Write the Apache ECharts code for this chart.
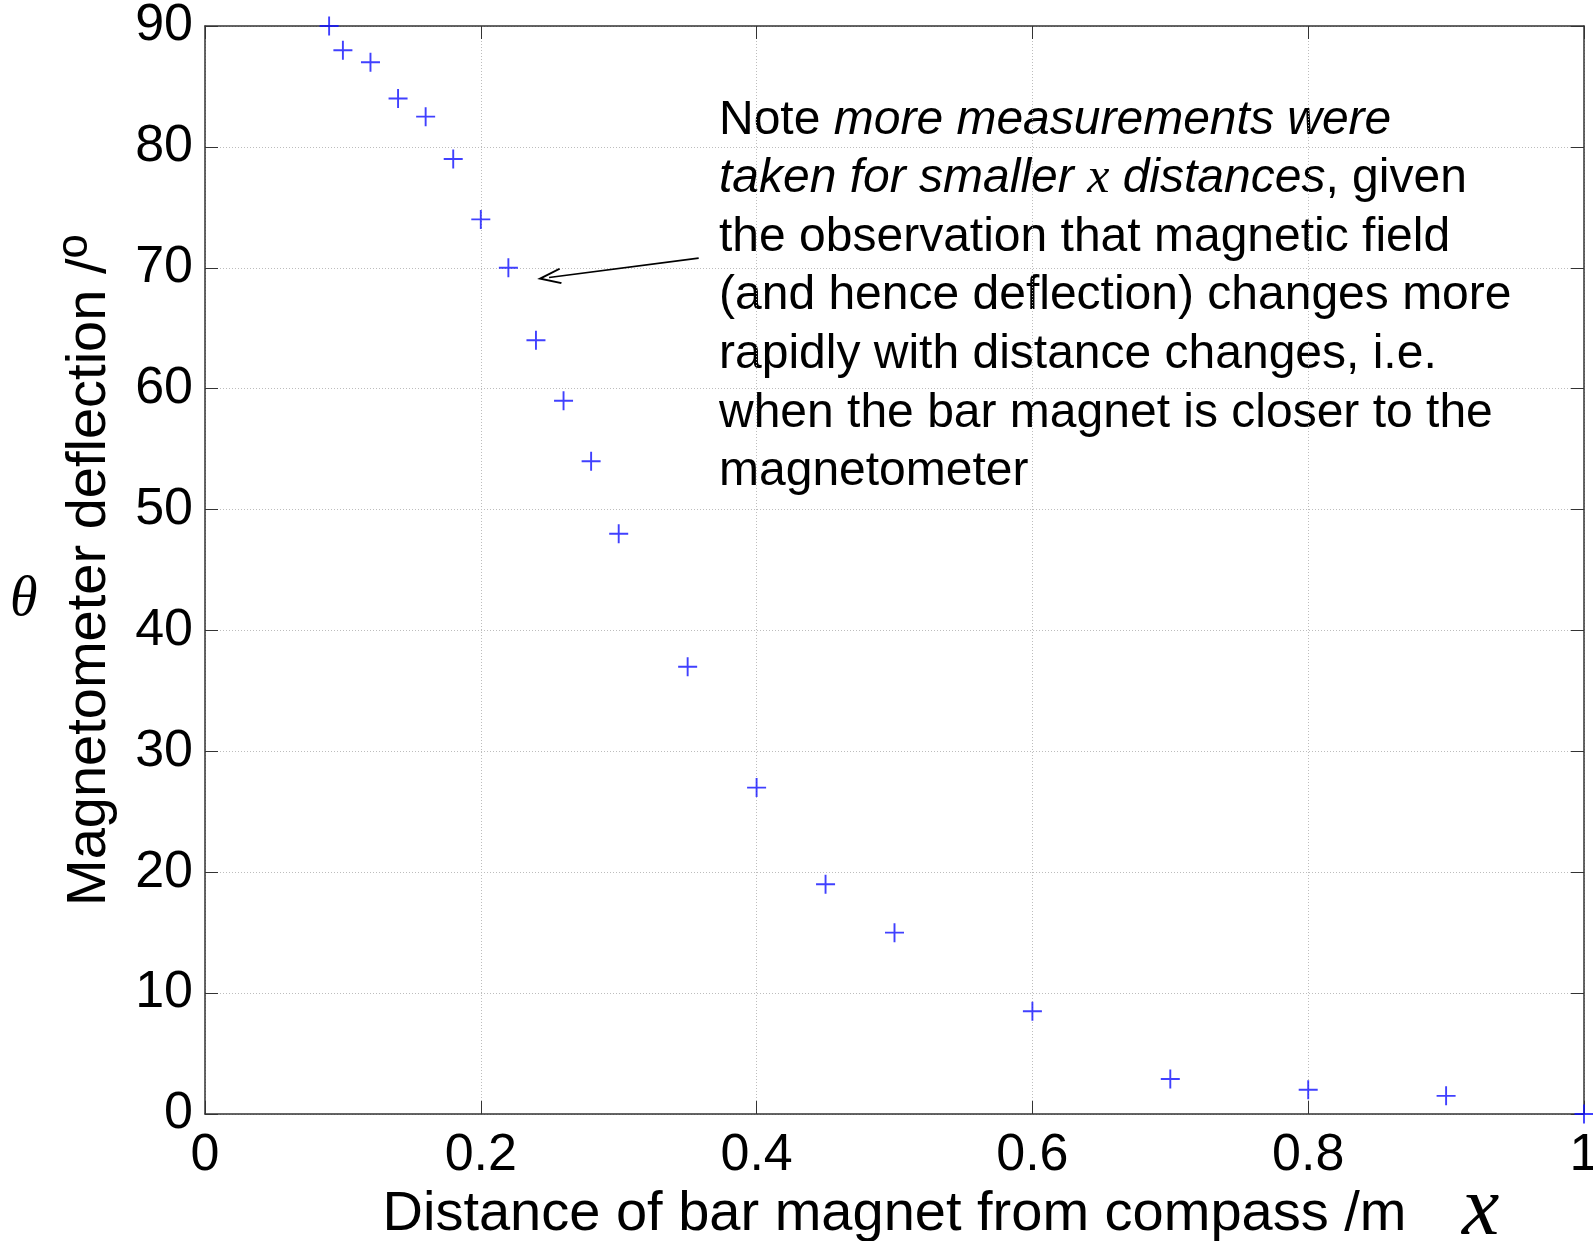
<!DOCTYPE html>
<html>
<head>
<meta charset="utf-8">
<script src="https://cdn.jsdelivr.net/npm/echarts@6/dist/echarts.min.js"></script>
<style>
  html, body { margin: 0; padding: 0; background: #fff; }
  #chart { width: 1593px; height: 1241px; }
</style>
</head>
<body>
<div id="chart"></div>
<script>
// measured distance x (m) and deflection theta (degrees)
const distance = [0.09, 0.1, 0.12, 0.14, 0.16, 0.18, 0.2, 0.22, 0.24, 0.26, 0.28, 0.3, 0.35, 0.4, 0.45, 0.5, 0.6, 0.7, 0.8, 0.9, 1.0]
const deflection = [90, 88, 87, 84, 82.5, 79, 74, 70, 64, 59, 54, 48, 37, 27, 19, 15, 8.5, 2.9, 2, 1.5, 0]

// annotation arrow, in data coordinates
const arrowFrom = [0.358, 70.8]
const arrowTo = [0.2495, 69.2]

const noteLines = [
  'Note {i|more measurements were}',
  '{i|taken for smaller }{m|x}{i| distances}, given',
  'the observation that magnetic field',
  '(and hence deflection) changes more',
  'rapidly with distance changes, i.e.',
  'when the bar magnet is closer to the',
  'magnetometer'
]

const sans = 'Liberation Sans, Arial, sans-serif'
const serif = 'Liberation Serif, Times New Roman, serif'
const axisColor = '#333'
const plus = 'path://M-1,-10h2v9h9v2h-9v9h-2v-9h-9v-2h9z'
const openArrow = 'path://M0,0L7,18L5.6,18.7L0,4.6L-5.6,18.7L-7,18Z'

const chart = echarts.init(document.getElementById('chart'))

const tick = { show: true, inside: true, length: 13, lineStyle: { color: axisColor, width: 1 } }
const line = { show: true, onZero: false, lineStyle: { color: axisColor, width: 1.5 } }
const grid = { show: true, lineStyle: { color: '#bdbdbd', type: [1, 2], width: 1 } }
const tickFont = { color: '#000', fontFamily: sans, fontSize: 52 }

const option = {
  backgroundColor: '#fff',
  animation: false,
  grid: { left: 205, right: 9, top: 26, bottom: 127, outerBoundsMode: 'none', containLabel: false },
  xAxis: [
    {
      type: 'value', min: 0, max: 1, interval: 0.2, position: 'bottom',
      axisLine: line, axisTick: tick, splitLine: grid,
      axisLabel: Object.assign({ margin: 16 }, tickFont),
      name: 'Distance of bar magnet from compass /m',
      nameLocation: 'middle', nameGap: 72,
      nameTextStyle: { color: '#000', fontFamily: sans, fontSize: 56 }
    },
    {
      type: 'value', min: 0, max: 1, interval: 0.2, position: 'top',
      axisLine: line, axisTick: tick, splitLine: { show: false },
      axisLabel: { show: false }
    }
  ],
  yAxis: [
    {
      type: 'value', min: 0, max: 90, interval: 10, position: 'left',
      axisLine: line, axisTick: tick, splitLine: grid,
      axisLabel: Object.assign({ margin: 12 }, tickFont),
      name: 'Magnetometer deflection /{sup|o}',
      nameLocation: 'middle', nameGap: 78,
      nameTextStyle: {
        color: '#000', fontFamily: sans, fontSize: 56,
        rich: { sup: { fontFamily: sans, fontSize: 44, verticalAlign: 'top', padding: [0, 0, 30, 0] } }
      }
    },
    {
      type: 'value', min: 0, max: 90, interval: 10, position: 'right',
      axisLine: line, axisTick: tick, splitLine: { show: false },
      axisLabel: { show: false }
    }
  ],
  series: [
    {
      type: 'scatter',
      data: distance.map((d, i) => [d, deflection[i]]),
      symbol: plus,
      symbolSize: 19,
      itemStyle: { color: '#1010ff' },
      clip: false,
      markLine: {
        silent: true,
        symbol: ['none', openArrow],
        symbolSize: [16, 24],
        lineStyle: { color: '#000', width: 1.6, type: 'solid' },
        label: { show: false },
        data: [[{ coord: arrowFrom }, { coord: arrowTo }]]
      }
    }
  ],
  graphic: [
    {
      type: 'text', left: 719, top: 91,
      style: {
        text: noteLines.join('\n'),
        fill: '#000', font: '48px ' + sans, lineHeight: 58.6,
        rich: {
          i: { fontFamily: sans, fontSize: 48, fontStyle: 'italic', lineHeight: 58.6 },
          m: { fontFamily: serif, fontSize: 50, fontStyle: 'italic', lineHeight: 58.6 }
        }
      }
    },
    {
      type: 'text', left: 10, top: 572,
      style: { text: 'θ', fill: '#000', font: 'italic 56px ' + serif }
    },
    {
      type: 'text', left: 1462, top: 1170,
      style: { text: 'x', fill: '#000', font: 'italic 84px ' + serif }
    }
  ]
}

chart.setOption(option)
</script>
</body>
</html>
